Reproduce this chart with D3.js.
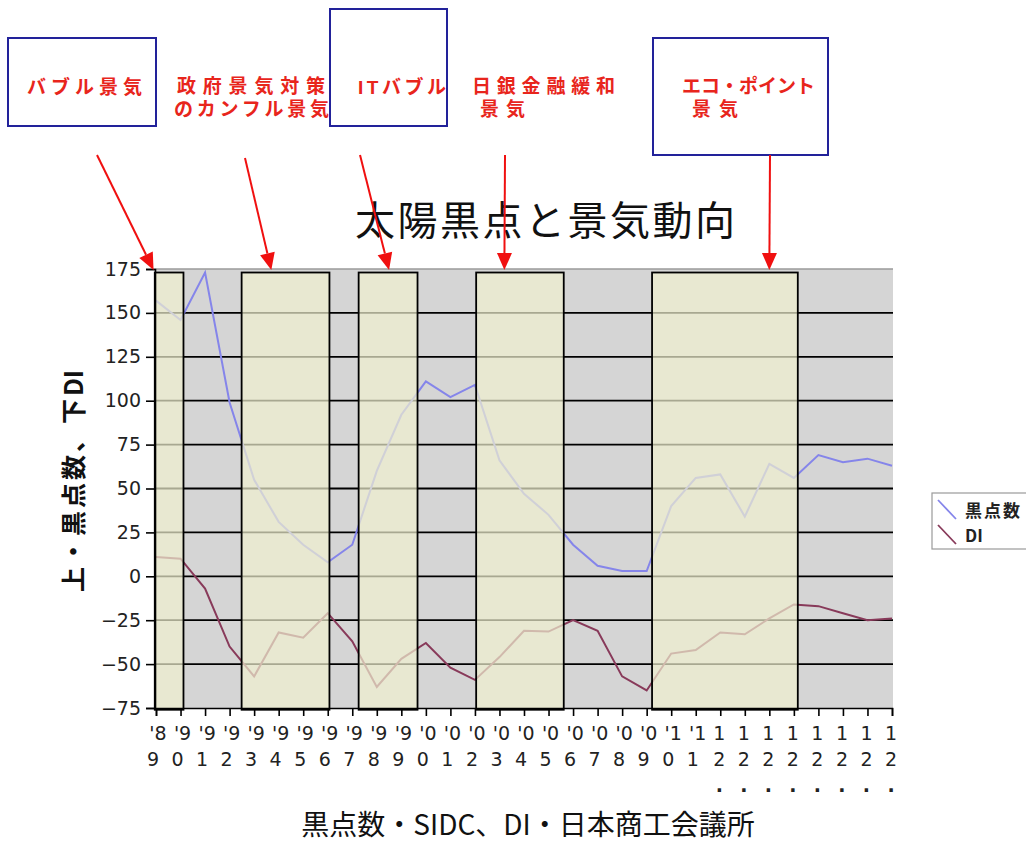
<!DOCTYPE html>
<html>
<head>
<meta charset="utf-8">
<script src="https://cdn.jsdelivr.net/npm/d3@7"></script>
<style>
  html, body { margin: 0; padding: 0; background: #fff; }
  svg { display: block; }
</style>
</head>
<body>
<svg id="chart" width="1026" height="842"></svg>
<script>
// Yearly categories ('89 – '11) followed by monthly 2012 points
const categories = ["'89","'90","'91","'92","'93","'94","'95","'96","'97","'98","'99",
  "'00","'01","'02","'03","'04","'05","'06","'07","'08","'09","'10","'11",
  "12.","12.","12.","12.","12.","12.","12.","12."];

// Sunspot number (SIDC)
const sunspots = [157,146,173,99,55,31,18,8,18,60,92,111,102,109,66,47,35,18,6,3,3,
  40,56,58,34,64,56,69,65,67,63];

// Business conditions DI (Japan Chamber of Commerce)
const di = [11,10,-7,-40,-57,-32,-35,-21,-37,-63,-47,-38,-52,-59,-46,-31,-31.5,-25,-31,
  -57,-65,-44,-42,-32,-33,-24,-16,-17,-21,-25,-24];

const yTicks = [-75,-50,-25,0,25,50,75,100,125,150,175];

// Boom periods, in category-index units
const periodStart = [-0.05, 3.49, 8.26, 13.05, 20.22];
const periodEnd   = [ 1.12, 7.07, 10.66, 16.62, 26.16];

// Callout labels and where their arrows point (category index)
const calloutLines = [["バブル景気"], ["政府景気対策","のカンフル景気"], ["ITバブル"],
  ["日銀金融緩和","景気"], ["エコ・ポイント","景気"]];
const arrowTarget = [-0.1, 4.7, 9.5, 14.2, 25.0];

const seriesNames = ["黒点数", "DI"];
const titleText = "太陽黒点と景気動向";
const yTitleParts = ["上・黒点数、下", "DI"];
const xTitle = "黒点数・SIDC、DI・日本商工会議所";

const svg = d3.select("#chart");
const jp = "'Noto Sans CJK JP', 'Noto Sans', sans-serif";
const jpCompact = "'Liberation Sans', 'Noto Sans CJK JP', sans-serif";
const num = "'DejaVu Sans', Verdana, sans-serif";

const plot = { left: 155, right: 893, top: 269, bottom: 708 };
const x = d3.scaleLinear().domain([0, categories.length - 1]).range([156, 892]);
const y = d3.scaleLinear().domain([-75, 175]).range([plot.bottom, plot.top]);

const colors = { sun: "#8585ea", di: "#883a5a" };

// plot background
svg.append("rect")
  .attr("x", plot.left).attr("y", plot.top)
  .attr("width", plot.right - plot.left).attr("height", plot.bottom - plot.top)
  .attr("fill", "#d5d5d5");

// horizontal grid
svg.append("g").selectAll("line")
  .data(yTicks.filter(v => v > -75 && v < 175))
  .join("line")
  .attr("x1", plot.left).attr("x2", plot.right)
  .attr("y1", d => y(d)).attr("y2", d => y(d))
  .attr("stroke", "#000").attr("stroke-width", 1.8);

svg.append("line")
  .attr("x1", plot.left).attr("x2", plot.right)
  .attr("y1", y(175)).attr("y2", y(175))
  .attr("stroke", "#9a9a9a").attr("stroke-width", 1.5);

// series lines
const line = d3.line().x((d, i) => x(i)).y(d => y(d));
svg.append("path").datum(sunspots)
  .attr("d", line).attr("fill", "none")
  .attr("stroke", colors.sun).attr("stroke-width", 2);
svg.append("path").datum(di)
  .attr("d", line).attr("fill", "none")
  .attr("stroke", colors.di).attr("stroke-width", 2);

// translucent boom-period panels over the lines
svg.append("g").selectAll("rect")
  .data(periodStart.map((s, i) => [s, periodEnd[i]]))
  .join("rect")
  .attr("x", d => x(d[0]))
  .attr("y", y(173))
  .attr("width", d => x(d[1]) - x(d[0]))
  .attr("height", y(-76) - y(173))
  .attr("fill", "rgba(240,240,206,0.7)")
  .attr("stroke", "#000").attr("stroke-width", 1.8);

// y axis
const yAxis = svg.append("g")
  .attr("transform", `translate(${plot.left},0)`)
  .call(d3.axisLeft(y).tickValues(yTicks).tickSize(9).tickPadding(5));
yAxis.select(".domain").attr("stroke", "#000").attr("stroke-width", 1.6);
yAxis.selectAll(".tick line").attr("stroke", "#000").attr("stroke-width", 1.6);
yAxis.selectAll(".tick text")
  .attr("font-family", num).attr("font-size", 19).attr("fill", "#222");

// x axis: ticks only, labels stacked one character per row
const xAxis = svg.append("g")
  .attr("transform", `translate(0,${plot.bottom})`)
  .call(d3.axisBottom(x).tickValues(d3.range(categories.length)).tickSize(8).tickFormat(""));
xAxis.select(".domain").attr("stroke", "#000").attr("stroke-width", 1.6);
xAxis.selectAll(".tick line").attr("stroke", "#000").attr("stroke-width", 1.6);

const labelRows = s => s.startsWith("'") ? [s.slice(0, 2), s.slice(2)] : s.split("");
const xl = svg.append("g").selectAll("g")
  .data(categories).join("g")
  .attr("transform", (d, i) => `translate(${x(i)},0)`);
xl.each(function (d) {
  const rows = labelRows(d);
  const g = d3.select(this);
  rows.forEach((r, k) => {
    const apos = d.startsWith("'");
    g.append("text")
      .attr("x", apos ? (k === 0 ? 2 : -3) : -1)
      .attr("y", 740 + k * 26)
      .attr("text-anchor", "middle")
      .attr("font-family", num).attr("font-size", 19)
      .attr("font-weight", r === "." ? "bold" : "normal")
      .attr("fill", "#222")
      .text(r);
  });
});

// titles
svg.append("text")
  .attr("x", 545).attr("y", 235)
  .attr("text-anchor", "middle")
  .attr("font-family", jp).attr("font-size", 40)
  .attr("textLength", 380).attr("lengthAdjust", "spacing")
  .attr("fill", "#111").text(titleText);

const yt = svg.append("text")
  .attr("transform", "translate(83,481) rotate(-90)")
  .attr("text-anchor", "middle")
  .attr("font-family", jp).attr("font-size", 25).attr("font-weight", "bold")
  .attr("fill", "#111");
yt.append("tspan").attr("letter-spacing", 3).text(yTitleParts[0]);
yt.append("tspan").attr("letter-spacing", 0).text(yTitleParts[1]);

svg.append("text")
  .attr("x", 528).attr("y", 835)
  .attr("text-anchor", "middle")
  .attr("font-family", jp).attr("font-size", 28)
  .attr("fill", "#111").text(xTitle);

// legend
const lg = svg.append("g");
lg.append("rect").attr("x", 932).attr("y", 493).attr("width", 110).attr("height", 56)
  .attr("fill", "#fff").attr("stroke", "#9a9a9a").attr("stroke-width", 1.2);
[[colors.sun, 500], [colors.di, 525]].forEach(([c, yy], i) => {
  lg.append("line").attr("x1", 938).attr("y1", yy).attr("x2", 956).attr("y2", yy + 19)
    .attr("stroke", c).attr("stroke-width", 1.8);
  lg.append("text").attr("x", 965).attr("y", yy + 17)
    .attr("font-family", jp).attr("font-size", 17).attr("font-weight", "bold")
    .attr("letter-spacing", i === 0 ? 2 : 0)
    .attr("fill", "#222").text(seriesNames[i]);
});

// callout boxes
const boxes = [[8, 38, 148, 88], [330, 9, 117, 117], [653, 38, 175, 117]];
svg.append("g").selectAll("rect").data(boxes).join("rect")
  .attr("x", d => d[0]).attr("y", d => d[1])
  .attr("width", d => d[2]).attr("height", d => d[3])
  .attr("fill", "none").attr("stroke", "#22229a").attr("stroke-width", 2);

// callout text: [start x per row, first-row baseline, width per row]
const calloutPos = [
  [[27], 94, [115]],
  [[177, 174], 93, [148, 155]],
  [[358], 94, [88]],
  [[472, 480], 93, [143, 45]],
  [[682, 692], 93, [133, 46]]
];
calloutLines.forEach((rows, i) => {
  const [xs, y0, widths] = calloutPos[i];
  rows.forEach((r, k) => {
    svg.append("text")
      .attr("x", xs[k]).attr("y", y0 + k * 23)
      .attr("font-family", jpCompact)
      .attr("font-size", 19)
      .attr("font-weight", "bold")
      .attr("textLength", widths[k]).attr("lengthAdjust", "spacing")
      .attr("fill", "#e8251c").text(r);
  });
});

// red arrows from callouts to the top of the plot
const arrowStart = [[97, 155], [245, 158], [360, 155], [505, 155], [770, 155]];
arrowTarget.forEach((t, i) => {
  const [sx, sy] = arrowStart[i];
  const tx = x(t), ty = plot.top + 1;
  const ang = Math.atan2(ty - sy, tx - sx);
  const len = 17, hw = 7.5;
  const bx = tx - len * Math.cos(ang), by = ty - len * Math.sin(ang);
  svg.append("line").attr("x1", sx).attr("y1", sy).attr("x2", bx).attr("y2", by)
    .attr("stroke", "#f01010").attr("stroke-width", 2);
  const px = -Math.sin(ang) * hw, py = Math.cos(ang) * hw;
  svg.append("path")
    .attr("d", `M${tx},${ty}L${bx + px},${by + py}L${bx - px},${by - py}Z`)
    .attr("fill", "#f01010");
});
</script>
</body>
</html>
